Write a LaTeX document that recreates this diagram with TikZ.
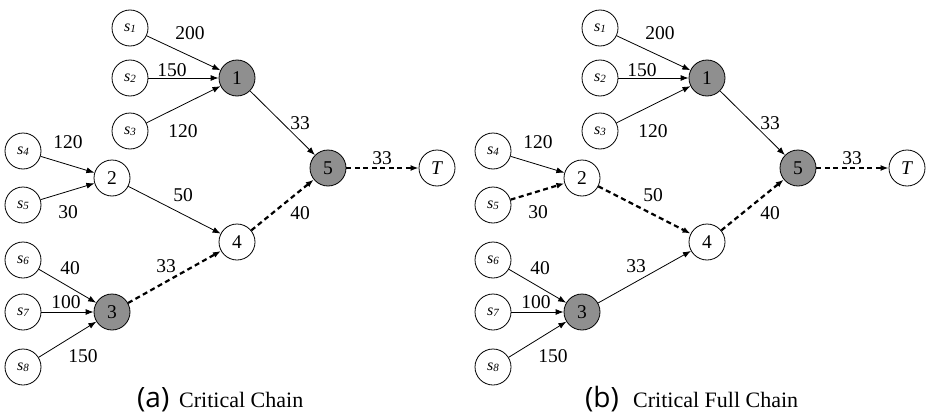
\documentclass[tikz,border=0pt]{standalone}
\usepackage{fontspec}
\setmainfont{Liberation Serif}
\newfontfamily\capfont{Open Sans}
\usetikzlibrary{arrows.meta}
\begin{document}
\begin{tikzpicture}[x=1pt,y=-1pt,
  vtx/.style={circle,draw,line width=0.8pt,minimum size=36pt,inner sep=0pt,font=\fontsize{19.5}{21}\selectfont},
  crit/.style={vtx,fill=black!44},
  src/.style={vtx,font=\fontsize{16}{17}\selectfont\itshape},
  wlab/.style={font=\fontsize{19.5}{21}\selectfont,inner sep=0pt},
  solidedge/.style={line width=0.8pt,-{Latex[length=8pt,width=6pt]}},
  critedge/.style={line width=2.2pt,dash pattern=on 5pt off 3.5pt,-{Latex[length=8pt,width=6pt]}},
  capletter/.style={inner sep=0pt,anchor=base west,font=\capfont\fontsize{28}{30}\selectfont},
  captext/.style={inner sep=0pt,anchor=base west,font=\fontsize{22}{24}\selectfont}
]
\path[use as bounding box] (0,0) rectangle (929,415);
\newcommand{\sname}[1]{s\raisebox{-1pt}{\fontsize{11}{11}\selectfont #1}}
% ---------- panel (a) ----------
\node[src] (as1) at (130,28) {\sname{1}};
\node[src] (as2) at (130,78) {\sname{2}};
\node[src] (as3) at (130,131) {\sname{3}};
\node[src] (as4) at (23,151) {\sname{4}};
\node[src] (as5) at (23,205) {\sname{5}};
\node[src] (as6) at (23,260) {\sname{6}};
\node[src] (as7) at (23,312) {\sname{7}};
\node[src] (as8) at (23,367) {\sname{8}};
\node[crit] (a1) at (237,78) {1};
\node[vtx] (a2) at (112,178) {2};
\node[crit] (a3) at (112,312) {3};
\node[vtx] (a4) at (237,242) {4};
\node[crit] (a5) at (328,168) {5};
\node[vtx] (aT) at (437,168) {\textit{T}};
\draw[solidedge] (as1) -- (a1);
\draw[solidedge] (as2) -- (a1);
\draw[solidedge] (as3) -- (a1);
\draw[solidedge] (as4) -- (a2);
\draw[solidedge] (as5) -- (a2);
\draw[solidedge] (as6) -- (a3);
\draw[solidedge] (as7) -- (a3);
\draw[solidedge] (as8) -- (a3);
\draw[solidedge] (a2) -- (a4);
\draw[critedge] (a3) -- (a4);
\draw[solidedge] (a1) -- (a5);
\draw[critedge] (a4) -- (a5);
\draw[critedge] (a5) -- (aT);
\node[wlab] (aw1) at (190,33) {200};
\node[wlab] (aw2) at (172,70) {150};
\node[wlab] (aw3) at (183,131) {120};
\node[wlab] (aw4) at (68,142) {120};
\node[wlab] (aw5) at (68,212) {30};
\node[wlab] (aw6) at (70,268) {40};
\node[wlab] (aw7) at (66,302) {100};
\node[wlab] (aw8) at (83,356) {150};
\node[wlab] (aw9) at (183,195) {50};
\node[wlab] (aw10) at (166,266) {33};
\node[wlab] (aw11) at (300,123) {33};
\node[wlab] (aw12) at (300,213) {40};
\node[wlab] (aw13) at (382,158) {33};
\node[capletter] (acapl) at (137,407) {(a)};
\node[captext] (acap) at (179,407) {Critical Chain};
% ---------- panel (b) ----------
\begin{scope}[xshift=470pt]
\node[src] (bs1) at (130,28) {\sname{1}};
\node[src] (bs2) at (130,78) {\sname{2}};
\node[src] (bs3) at (130,131) {\sname{3}};
\node[src] (bs4) at (23,151) {\sname{4}};
\node[src] (bs5) at (23,205) {\sname{5}};
\node[src] (bs6) at (23,260) {\sname{6}};
\node[src] (bs7) at (23,312) {\sname{7}};
\node[src] (bs8) at (23,367) {\sname{8}};
\node[crit] (b1) at (237,78) {1};
\node[vtx] (b2) at (112,178) {2};
\node[crit] (b3) at (112,312) {3};
\node[vtx] (b4) at (237,242) {4};
\node[crit] (b5) at (328,168) {5};
\node[vtx] (bT) at (437,168) {\textit{T}};
\draw[solidedge] (bs1) -- (b1);
\draw[solidedge] (bs2) -- (b1);
\draw[solidedge] (bs3) -- (b1);
\draw[solidedge] (bs4) -- (b2);
\draw[critedge] (bs5) -- (b2);
\draw[solidedge] (bs6) -- (b3);
\draw[solidedge] (bs7) -- (b3);
\draw[solidedge] (bs8) -- (b3);
\draw[critedge] (b2) -- (b4);
\draw[solidedge] (b3) -- (b4);
\draw[solidedge] (b1) -- (b5);
\draw[critedge] (b4) -- (b5);
\draw[critedge] (b5) -- (bT);
\node[wlab] (bw1) at (190,33) {200};
\node[wlab] (bw2) at (172,70) {150};
\node[wlab] (bw3) at (183,131) {120};
\node[wlab] (bw4) at (68,142) {120};
\node[wlab] (bw5) at (68,212) {30};
\node[wlab] (bw6) at (70,268) {40};
\node[wlab] (bw7) at (66,302) {100};
\node[wlab] (bw8) at (83,356) {150};
\node[wlab] (bw9) at (183,195) {50};
\node[wlab] (bw10) at (166,266) {33};
\node[wlab] (bw11) at (300,123) {33};
\node[wlab] (bw12) at (300,213) {40};
\node[wlab] (bw13) at (382,158) {33};
\node[capletter] (bcapl) at (115,407) {(b)};
\node[captext] (bcap) at (163,407) {Critical Full Chain};
\end{scope}
\end{tikzpicture}
\end{document}
